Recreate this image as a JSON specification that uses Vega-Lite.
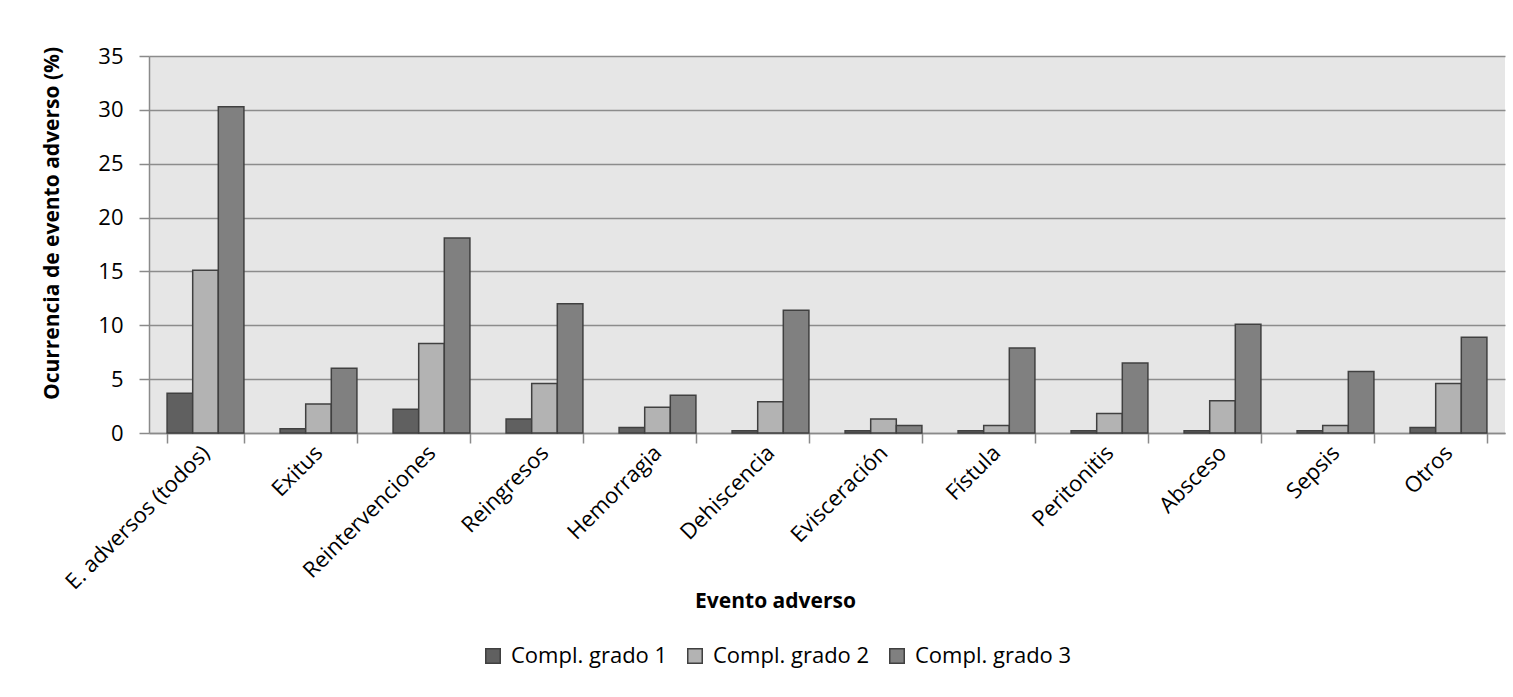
{
  "$schema": "https://vega.github.io/schema/vega-lite/v6.json",
  "autosize": {"type": "none"},
  "padding": {"left": 149, "top": 56, "right": 8, "bottom": 264},
  "width": 1356,
  "height": 377,
  "background": "white",
  "data": {
    "values": [
      {"evento": "E. adversos (todos)", "grado": "Compl. grado 1", "valor": 3.7},
      {"evento": "E. adversos (todos)", "grado": "Compl. grado 2", "valor": 15.1},
      {"evento": "E. adversos (todos)", "grado": "Compl. grado 3", "valor": 30.3},
      {"evento": "Exitus", "grado": "Compl. grado 1", "valor": 0.4},
      {"evento": "Exitus", "grado": "Compl. grado 2", "valor": 2.7},
      {"evento": "Exitus", "grado": "Compl. grado 3", "valor": 6.0},
      {"evento": "Reintervenciones", "grado": "Compl. grado 1", "valor": 2.2},
      {"evento": "Reintervenciones", "grado": "Compl. grado 2", "valor": 8.3},
      {"evento": "Reintervenciones", "grado": "Compl. grado 3", "valor": 18.1},
      {"evento": "Reingresos", "grado": "Compl. grado 1", "valor": 1.3},
      {"evento": "Reingresos", "grado": "Compl. grado 2", "valor": 4.6},
      {"evento": "Reingresos", "grado": "Compl. grado 3", "valor": 12.0},
      {"evento": "Hemorragia", "grado": "Compl. grado 1", "valor": 0.5},
      {"evento": "Hemorragia", "grado": "Compl. grado 2", "valor": 2.4},
      {"evento": "Hemorragia", "grado": "Compl. grado 3", "valor": 3.5},
      {"evento": "Dehiscencia", "grado": "Compl. grado 1", "valor": 0.2},
      {"evento": "Dehiscencia", "grado": "Compl. grado 2", "valor": 2.9},
      {"evento": "Dehiscencia", "grado": "Compl. grado 3", "valor": 11.4},
      {"evento": "Evisceración", "grado": "Compl. grado 1", "valor": 0.2},
      {"evento": "Evisceración", "grado": "Compl. grado 2", "valor": 1.3},
      {"evento": "Evisceración", "grado": "Compl. grado 3", "valor": 0.7},
      {"evento": "Fístula", "grado": "Compl. grado 1", "valor": 0.2},
      {"evento": "Fístula", "grado": "Compl. grado 2", "valor": 0.7},
      {"evento": "Fístula", "grado": "Compl. grado 3", "valor": 7.9},
      {"evento": "Peritonitis", "grado": "Compl. grado 1", "valor": 0.2},
      {"evento": "Peritonitis", "grado": "Compl. grado 2", "valor": 1.8},
      {"evento": "Peritonitis", "grado": "Compl. grado 3", "valor": 6.5},
      {"evento": "Absceso", "grado": "Compl. grado 1", "valor": 0.2},
      {"evento": "Absceso", "grado": "Compl. grado 2", "valor": 3.0},
      {"evento": "Absceso", "grado": "Compl. grado 3", "valor": 10.1},
      {"evento": "Sepsis", "grado": "Compl. grado 1", "valor": 0.2},
      {"evento": "Sepsis", "grado": "Compl. grado 2", "valor": 0.7},
      {"evento": "Sepsis", "grado": "Compl. grado 3", "valor": 5.7},
      {"evento": "Otros", "grado": "Compl. grado 1", "valor": 0.5},
      {"evento": "Otros", "grado": "Compl. grado 2", "valor": 4.6},
      {"evento": "Otros", "grado": "Compl. grado 3", "valor": 8.9}
    ]
  },
  "mark": {"type": "bar", "stroke": "#404040", "strokeWidth": 1.5},
  "encoding": {
    "x": {
      "field": "evento",
      "type": "nominal",
      "sort": null,
      "scale": {"paddingInner": 0.32, "paddingOuter": 0.16},
      "axis": {
        "title": "Evento adverso",
        "titleFont": "Open Sans",
        "titleFontSize": 21,
        "titleFontWeight": "bold",
        "titleColor": "#000000",
        "titleX": 626,
        "titleY": 168,
        "titleAlign": "center",
        "titleBaseline": "middle",
        "labelAngle": -45,
        "labelAlign": "right",
        "labelBaseline": "middle",
        "labelFont": "Open Sans",
        "labelFontSize": 22,
        "labelColor": "#000000",
        "labelPadding": 6,
        "labelLimit": 400,
        "tickBand": "extent",
        "tickOffset": -18,
        "tickSize": 10,
        "tickColor": "#8a8a8a",
        "tickWidth": 1.5,
        "domainColor": "#8a8a8a",
        "domainWidth": 1.5,
        "grid": false
      }
    },
    "xOffset": {"field": "grado", "type": "nominal"},
    "y": {
      "field": "valor",
      "type": "quantitative",
      "scale": {"domain": [0, 35], "nice": false},
      "axis": {
        "title": "Ocurrencia de evento adverso (%)",
        "titleFont": "Open Sans",
        "titleFontSize": 21,
        "titleFontWeight": "bold",
        "titleColor": "#000000",
        "titleX": -97,
        "titleY": 167,
        "titleAlign": "center",
        "titleBaseline": "middle",
        "titleAngle": -90,
        "values": [0, 5, 10, 15, 20, 25, 30, 35],
        "labelFont": "Open Sans",
        "labelFontSize": 22,
        "labelColor": "#000000",
        "labelPadding": 16,
        "tickSize": 10,
        "tickColor": "#8a8a8a",
        "tickWidth": 1.5,
        "domainColor": "#8a8a8a",
        "domainWidth": 1.5,
        "grid": true,
        "gridColor": "#8c8c8c",
        "gridWidth": 1.5
      }
    },
    "fill": {
      "field": "grado",
      "type": "nominal",
      "scale": {
        "domain": ["Compl. grado 1", "Compl. grado 2", "Compl. grado 3"],
        "range": ["#606060", "#b3b3b3", "#808080"]
      },
      "legend": {
        "title": null,
        "orient": "none",
        "direction": "horizontal",
        "legendX": 333,
        "legendY": 589,
        "symbolType": "square",
        "symbolSize": 210,
        "symbolStrokeColor": "#404040",
        "symbolStrokeWidth": 1.5,
        "labelFont": "Open Sans",
        "labelFontSize": 22,
        "labelColor": "#000000",
        "labelOffset": 7,
        "columnPadding": 16
      }
    }
  },
  "config": {
    "view": {"fill": "#e6e6e6", "stroke": null}
  }
}
